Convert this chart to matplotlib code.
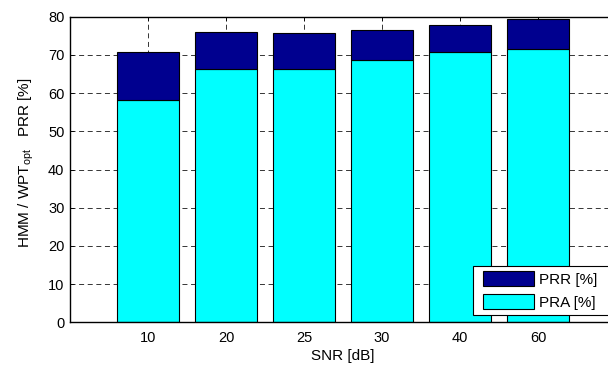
import matplotlib
matplotlib.use('Agg')
import matplotlib.pyplot as plt
from matplotlib.patches import Rectangle
from matplotlib.legend_handler import HandlerPatch
import numpy as np

# SNR levels and stacked percentages
snr_labels = ['10', '20', '25', '30', '40', '60']
pra = [58.1, 66.3, 66.3, 68.7, 70.8, 71.6]
prr = [12.6, 9.8, 9.5, 7.7, 6.9, 7.7]   # stacked on top of PRA

plt.rcParams['font.family'] = ['Liberation Sans', 'DejaVu Sans']
plt.rcParams['font.size'] = 11
plt.rcParams['mathtext.fontset'] = 'custom'
plt.rcParams['mathtext.rm'] = 'Liberation Sans'
plt.rcParams['mathtext.it'] = 'Liberation Sans'
plt.rcParams['lines.scale_dashes'] = False

fig = plt.figure(figsize=(6.08, 3.69), dpi=100)
# axes runs a little past the right edge, as in the cropped original
ax = fig.add_axes([70 / 608, 1 - 322.3 / 369, 546 / 608, 305.6 / 369])

x = np.arange(1, len(snr_labels) + 1)
ax.bar(x, pra, width=0.8, color='#00FFFF', edgecolor='black',
       linewidth=0.8, zorder=2)
ax.bar(x, prr, width=0.8, bottom=pra, color='#00008F',
       edgecolor='black', linewidth=0.8, zorder=2)

ax.set_xlim(0, 7)
ax.set_ylim(0, 80)
ax.set_xticks(x)
ax.set_xticklabels(snr_labels)
ax.set_yticks(np.arange(0, 81, 10))

ax.set_axisbelow(True)
ax.grid(True, color='black', linestyle=(0, (3.6, 2.6)), linewidth=0.55)

ax.tick_params(direction='in', length=3, width=0.6, top=True, right=True,
               labelsize=10.5)
ax.tick_params(axis='y', pad=4)
ax.tick_params(axis='x', pad=6)
for s in ax.spines.values():
    s.set_linewidth(1.0)

ax.set_xlabel('SNR [dB]', labelpad=3)
ax.set_ylabel(r'HMM / WPT$_{\mathrm{opt}}$   PRR [%]')
ax.yaxis.set_label_coords(-0.062, 0.523)


# legend swatches sit a bit in from the left edge of the box (MATLAB look)
def inset_patch(legend, orig_handle, xdescent, ydescent, width, height,
                fontsize):
    off = 3.9
    return Rectangle((-xdescent + off, -ydescent), width - off, height)


h_prr = Rectangle((0, 0), 1, 1, facecolor='#00008F', edgecolor='black',
                  linewidth=0.8)
h_pra = Rectangle((0, 0), 1, 1, facecolor='#00FFFF', edgecolor='black',
                  linewidth=0.8)
leg = ax.legend([h_prr, h_pra], ['PRR [%]  ', 'PRA [%]  '],
                loc='lower left', bbox_to_anchor=(472.7 / 608, 54 / 369),
                bbox_transform=fig.transFigure,
                handler_map={Rectangle: HandlerPatch(patch_func=inset_patch)},
                fontsize=11, fancybox=False, edgecolor='black', framealpha=1,
                handlelength=3.67, handleheight=1.1, handletextpad=0.35,
                labelspacing=0.5, borderpad=0.33, borderaxespad=0)
leg.get_frame().set_linewidth(0.8)

fig.savefig('out.png', dpi=100)
